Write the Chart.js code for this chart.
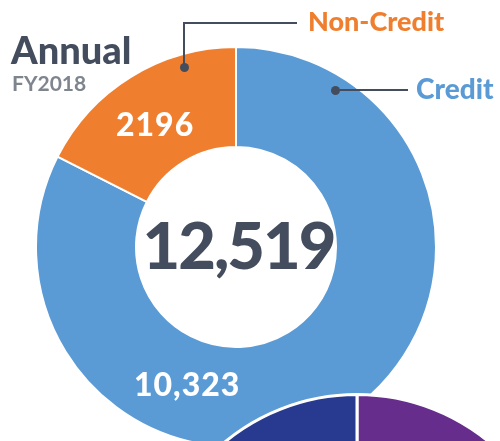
<!DOCTYPE html>
<html>
<head>
<meta charset="utf-8">
<script src="https://cdn.jsdelivr.net/npm/chart.js@4/dist/chart.umd.min.js"></script>
<style>
  html, body { margin: 0; padding: 0; background: #fff; }
  #stage { position: relative; width: 500px; height: 441px; overflow: hidden; font-family: Lato, "Open Sans", sans-serif; }
  #stage canvas { position: absolute; }
  .txt { position: absolute; font-weight: 700; white-space: nowrap; line-height: 1; }
  .line { position: absolute; background: #434d5e; }
  .dot { position: absolute; width: 9px; height: 9px; border-radius: 50%; background: #434d5e; }
</style>
</head>
<body>
<div id="stage">
  <canvas id="annual" width="402" height="402" style="left:35px;top:46px"></canvas>
  <canvas id="other" width="418" height="418" style="left:148px;top:393px"></canvas>

  <div class="txt" style="left:11px;top:30px;font-size:38px;color:#434d5e;font-weight:900">Annual</div>
  <div class="txt" style="left:12px;top:72px;font-size:21px;color:#7f858e">FY2018</div>

  <div class="line" style="left:183px;top:22px;width:2px;height:45px"></div>
  <div class="line" style="left:183px;top:22px;width:114px;height:2px"></div>
  <div class="dot" style="left:180px;top:63px"></div>
  <div class="txt" id="lblNon" style="left:308px;top:7px;font-size:27px;color:#ef7f2f;font-weight:900"></div>

  <div class="dot" style="left:331px;top:86px"></div>
  <div class="line" style="left:335px;top:89px;width:73px;height:2px"></div>
  <div class="txt" id="lblCredit" style="left:416px;top:74px;font-size:28px;color:#5b9bd5;font-weight:900"></div>

  <div class="txt" id="total" style="left:2px;width:473px;text-align:center;top:212px;font-size:65px;letter-spacing:-2px;color:#434d5e;font-weight:900"></div>
  <div class="txt" id="valNon" style="left:116px;top:108px;font-size:32px;letter-spacing:1px;color:#fff;font-weight:900"></div>
  <div class="txt" id="valCredit" style="left:134px;top:368px;font-size:32px;letter-spacing:1px;color:#fff;font-weight:900"></div>
</div>
<script>
// ─── Data ─────────────────────────────────────────────────────────────────
const categories = ['Credit', 'Non-Credit'];
const annualValues = [10323, 2196];
const annualColors = ['#5b9bd5', '#ef7f2f'];

// second (cut off) chart below – only its top is visible
const otherCategories = ['Purple', 'Navy'];
const otherValues = [50, 50];
const otherColors = ['#662d8c', '#283a8f'];

// ─── Labels ───────────────────────────────────────────────────────────────
const fmt = (v) => v.toLocaleString('en-US');
const total = annualValues.reduce((a, b) => a + b, 0);
document.getElementById('lblCredit').textContent = categories[0];
document.getElementById('lblNon').textContent = categories[1];
document.getElementById('total').textContent = fmt(total);
document.getElementById('valCredit').textContent = fmt(annualValues[0]);
document.getElementById('valNon').textContent = String(annualValues[1]);

// ─── Charts ───────────────────────────────────────────────────────────────
function makeDonut(id, labels, data, colors, border) {
  return new Chart(document.getElementById(id), {
    type: 'doughnut',
    data: {
      labels,
      datasets: [{
        data,
        backgroundColor: colors,
        borderColor: '#fff',
        borderWidth: border,
      }],
    },
    options: {
      responsive: false,
      animation: false,
      cutout: '50%',
      layout: { padding: 0 },
      plugins: { legend: { display: false }, tooltip: { enabled: false } },
    },
  });
}

makeDonut('annual', categories, annualValues, annualColors, 2);
makeDonut('other', otherCategories, otherValues, otherColors, 3);
</script>
</body>
</html>
